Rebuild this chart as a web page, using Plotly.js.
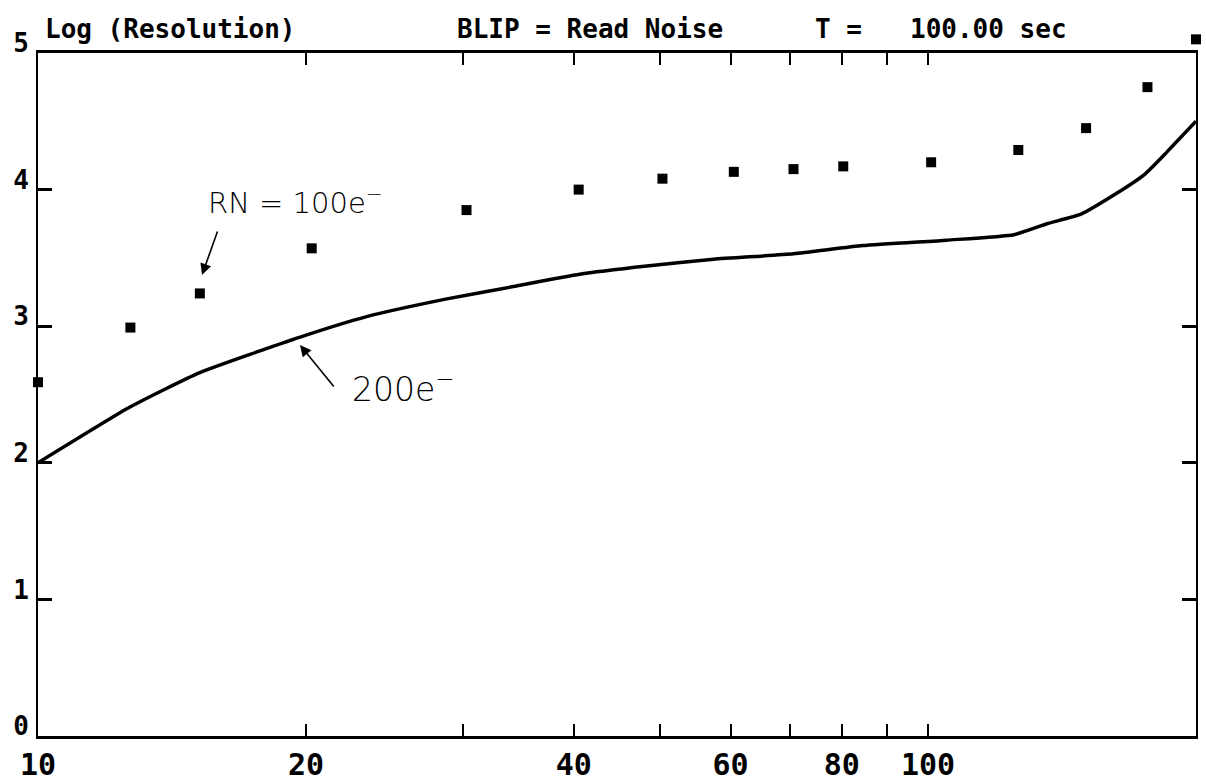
<!DOCTYPE html>
<html>
<head>
<meta charset="utf-8">
<script src="https://cdn.plot.ly/plotly-3.0.1.min.js"></script>
<style>html,body{margin:0;padding:0;background:#fff;}#chart{width:1206px;height:781px;}</style>
</head>
<body>
<div id="chart"></div>
<script>
// Read noise 100 e- : square markers
const rnX = [10, 12.7, 15.2, 20.3, 30.3, 40.5, 50.3, 60.5, 70.6, 80.3, 100.8, 126.3, 150.5, 176.4, 200];
const rnY = [2.59, 2.99, 3.24, 3.57, 3.85, 4.00, 4.08, 4.13, 4.15, 4.17, 4.20, 4.29, 4.45, 4.75, 5.10];
// Read noise 200 e- : solid curve
const curveX = [10, 12.7, 15.2, 19.7, 23.4, 28.8, 34.2, 40.6, 48.3, 57.4, 70.6, 84.5, 104.9, 124.9, 136, 148.5, 161.7, 175, 185.8, 200];
const curveY = [2.00, 2.41, 2.66, 2.92, 3.07, 3.20, 3.29, 3.38, 3.44, 3.49, 3.53, 3.59, 3.63, 3.67, 3.75, 3.82, 3.96, 4.11, 4.28, 4.50];
// Axis ticks
const xTickVals = [10, 20, 40, 60, 80, 100];
const xTickText = ["10", "20", "40", "60", "80", "100"];
const xMinorVals = [30, 50, 70, 90];
const yTickVals = [0, 1, 2, 3, 4, 5];
const yTickText = ["0", "1", "2", "3", "4", "5"];
const yMax = 5;
// Header texts
const titleLeft = "Log (Resolution)";
const titleMid = "BLIP = Read Noise";
const titleT = "T =";
const titleTime = "100.00 sec";
const noteRN = "RN = 100e<sup>\u2212</sup>";
const note200 = "200e<sup>\u2212</sup>";

const W = 1206, H = 781;
const M = {l: 38, r: 10, t: 16, b: 45};
const frameTop = 53; // pixel row of the top frame line
const pw = W - M.l - M.r, ph = H - M.t - M.b;
const px = v => (v - M.l) / pw;
const py = v => (H - M.b - v) / ph;
const mainTop = py(frameTop);
const unitPx = (H - M.b - frameTop) / yMax;
const extraRange = (frameTop - M.t) / unitPx;

// points inside the frame vs. the one drawn above the top frame line
const inIdx = rnY.map((v, i) => i).filter(i => rnY[i] <= yMax);
const outIdx = rnY.map((v, i) => i).filter(i => rnY[i] > yMax);

const mono = {family: "DejaVu Sans Mono", size: 26, color: "#000", weight: "bold"};
const hand = {family: "DejaVu Sans", size: 29, color: "#000", weight: 200};

const mk = {symbol: "square", size: 10, color: "#000"};
const traces = [
  {x: curveX, y: curveY, type: "scatter", mode: "lines",
   line: {color: "#000", width: 3.5, shape: "spline", smoothing: 0.5}, hoverinfo: "skip", showlegend: false},
  {x: inIdx.map(i => rnX[i]), y: inIdx.map(i => rnY[i]), type: "scatter", mode: "markers", cliponaxis: false,
   marker: mk, hoverinfo: "skip", showlegend: false},
  {x: outIdx.map(i => rnX[i]), y: outIdx.map(i => rnY[i]), xaxis: "x", yaxis: "y2", type: "scatter", mode: "markers", cliponaxis: false,
   marker: mk, hoverinfo: "skip", showlegend: false}
];

const layout = {
  width: W, height: H,
  margin: M,
  paper_bgcolor: "#fff", plot_bgcolor: "rgba(0,0,0,0)",
  showlegend: false,
  xaxis: {
    type: "log", range: [1, Math.log10(200)],
    tickvals: xTickVals, ticktext: xTickText,
    ticks: "inside", ticklen: 12, tickwidth: 2, tickcolor: "#000",
    minor: {tickvals: xMinorVals, ticks: "inside", ticklen: 12, tickwidth: 2, tickcolor: "#000", showgrid: false},
    showline: true, linecolor: "#000", linewidth: 3, mirror: "ticks",
    showgrid: false, zeroline: false, anchor: "y",
    tickfont: {family: "DejaVu Sans Mono", size: 30, color: "#000", weight: "bold"}
  },
  yaxis: {
    domain: [0, mainTop],
    range: [0, yMax],
    tickvals: yTickVals, ticktext: yTickText,
    ticks: "inside", ticklen: 14, tickwidth: 3, tickcolor: "#000",
    showline: true, linecolor: "#000", linewidth: 2, mirror: "ticks",
    showgrid: false, zeroline: false,
    ticklabelshift: -10, ticklabelstandoff: 2,
    tickfont: {family: "DejaVu Sans Mono", size: 26, color: "#000", weight: "bold"}
  },
  yaxis2: {
    domain: [mainTop, 1],
    range: [yMax, yMax + extraRange],
    anchor: "x", visible: false, showgrid: false, zeroline: false
  },
  annotations: [
    {text: titleLeft, xref: "paper", yref: "paper", x: px(43), y: py(29), xanchor: "left", yanchor: "middle", showarrow: false, font: mono},
    {text: titleMid, xref: "paper", yref: "paper", x: px(455), y: py(29), xanchor: "left", yanchor: "middle", showarrow: false, font: mono},
    {text: titleT, xref: "paper", yref: "paper", x: px(813), y: py(29), xanchor: "left", yanchor: "middle", showarrow: false, font: mono},
    {text: titleTime, xref: "paper", yref: "paper", x: px(908), y: py(29), xanchor: "left", yanchor: "middle", showarrow: false, font: mono},
    {text: noteRN, xref: "paper", yref: "paper", x: px(206), y: py(201), xanchor: "left", yanchor: "middle", showarrow: false, font: hand},
    {text: note200, xref: "paper", yref: "paper", x: px(350), y: py(388), xanchor: "left", yanchor: "middle", showarrow: false, font: Object.assign({}, hand, {size: 33})},
    {text: "", xref: "paper", yref: "paper", x: px(202), y: py(275), ax: 16, ay: -45, showarrow: true,
     arrowhead: 2, arrowsize: 1.4, arrowwidth: 1.6, arrowcolor: "#000"},
    {text: "", xref: "paper", yref: "paper", x: px(300), y: py(345), ax: 35, ay: 43, showarrow: true,
     arrowhead: 2, arrowsize: 1.4, arrowwidth: 1.6, arrowcolor: "#000"}
  ]
};

Plotly.newPlot("chart", traces, layout, {displayModeBar: false, staticPlot: true});
</script>
</body>
</html>
